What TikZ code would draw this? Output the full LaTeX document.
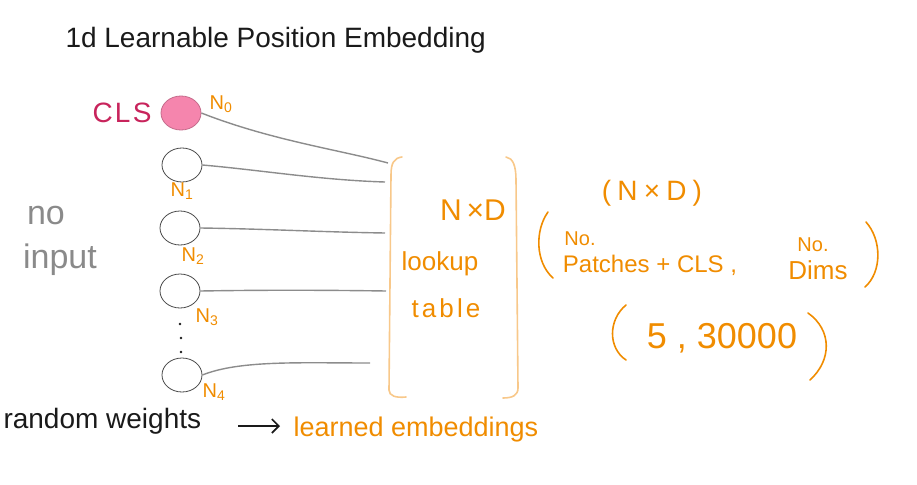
\documentclass[tikz,border=0pt]{standalone}
\usepackage{fontspec}
\setmainfont{Liberation Sans}
\usetikzlibrary{shapes.geometric,arrows.meta}
\definecolor{ink}{HTML}{1A1A1A}
\definecolor{orng}{HTML}{F08C00}
\definecolor{lorng}{HTML}{F8C88A}
\definecolor{clsred}{HTML}{C8245C}
\definecolor{clsfill}{HTML}{F585AD}
\definecolor{wire}{HTML}{8C8C8C}
\definecolor{greytxt}{HTML}{8A8A8A}
\tikzset{
  tok/.style={ellipse, draw=ink!80, line width=0.8pt, minimum width=40pt, minimum height=34pt, inner sep=0pt, fill=white},
  lbl/.style={text=orng, font=\fontsize{20}{22}\selectfont},
  wireline/.style={draw=wire, line width=1.4pt},
  brk/.style={draw=lorng, line width=1.6pt, line cap=round},
  paren/.style={draw=orng, line width=1.6pt, line cap=round},
  otxt/.style={text=orng, font=\fontsize{26}{30}\selectfont},
}
\newcommand{\spc}[1]{\addfontfeature{LetterSpace=#1}}
\begin{document}
\begin{tikzpicture}[x=1pt,y=-1pt]
\useasboundingbox (0,0) rectangle (917,484);
% title
\node[anchor=west, text=ink, font=\fontsize{28}{32}\selectfont] (title) at (62,40) {1d Learnable Position Embedding};
% tokens
\node[tok, fill=clsfill, draw=clsfill!80!black] (n0) at (181,113) {};
\node[tok] (n1) at (182,165) {};
\node[tok] (n2) at (180,228) {};
\node[tok] (n3) at (180,291) {};
\node[tok] (n4) at (182,375) {};
\node[text=clsred, font=\fontsize{28}{32}\selectfont\spc{8}, anchor=east] (cls) at (155,113) {CLS};
% labels
\node[lbl] (l0) at (221,104) {N\textsubscript{0}};
\node[lbl] (l1) at (182,191) {N\textsubscript{1}};
\node[lbl] (l2) at (193,256) {N\textsubscript{2}};
\node[lbl] (l3) at (207,317) {N\textsubscript{3}};
\node[lbl] (l4) at (214,392) {N\textsubscript{4}};
% dots
\node[circle, fill=ink, inner sep=0.9pt] (d1) at (180,324) {};
\node[circle, fill=ink, inner sep=0.9pt] (d2) at (181,338) {};
\node[circle, fill=ink, inner sep=0.9pt] (d3) at (181,352) {};
% no input
\node[text=greytxt, font=\fontsize{34}{38}\selectfont] (noin1) at (46,216) {no};
\node[text=greytxt, font=\fontsize{34}{38}\selectfont] (noin2) at (60,260) {input};
% connector endpoints at bracket
\coordinate (e0) at (388,163);
\coordinate (e1) at (385,182);
\coordinate (e2) at (385,233);
\coordinate (e3) at (386,291);
\coordinate (e4) at (370,363);
\draw[wireline] (n0.east) .. controls (270,140) and (340,150) .. (e0);
\draw[wireline] (n1.east) .. controls (260,170) and (320,180) .. (e1);
\draw[wireline] (n2.east) .. controls (270,229) and (320,232) .. (e2);
\draw[wireline] (n3.east) .. controls (260,290) and (320,290) .. (e3);
\draw[wireline] (n4.east) .. controls (240,360) and (300,363) .. (e4);
% lookup table bracket
\draw[brk] (402,157) .. controls (394,158) and (391,163) .. (391,175) -- (389,390) .. controls (389,396) and (396,398) .. (406,397);
\draw[brk] (506,157) .. controls (513,158) and (516,166) .. (516,180) -- (518,388) .. controls (518,395) and (513,398) .. (503,398);
\node[otxt, font=\fontsize{30}{34}\selectfont] (nxd) at (473,210) {N\,×D};
\node[otxt] (lookup) at (440,264) {lookup};
\node[otxt, font=\fontsize{26}{30}\selectfont\spc{12}] (table) at (446,308) {table};
% right annotations
\node[otxt, font=\fontsize{28}{32}\selectfont\spc{22}] (nxd2) at (652,193) {(N×D)};
\draw[paren] (548,212) .. controls (535,230) and (535,262) .. (553,278);
\draw[paren] (866,222) .. controls (882,240) and (882,272) .. (865,287);
\node[lbl] (no1) at (580,239) {No.};
\node[otxt, font=\fontsize{24}{28}\selectfont] (patches) at (650,265) {Patches + CLS ,};
\node[lbl] (no2) at (813,245) {No.};
\node[otxt] (dims) at (818,270) {Dims};
\draw[paren] (626,305) .. controls (608,320) and (608,348) .. (626,360);
\draw[paren] (808,313) .. controls (832,330) and (832,360) .. (810,380);
\node[text=orng, font=\fontsize{36}{40}\selectfont] (val) at (722,338) {5 , 30000};
% bottom line
\node[text=ink, font=\fontsize{28}{32}\selectfont, anchor=west] (rw) at (0,421) {random weights};
\node[text=orng, font=\fontsize{27}{31}\selectfont, anchor=west] (le) at (290,430) {learned embeddings};
\coordinate (as) at (238,426);
\coordinate (ae) at (280,426);
\draw[-{Straight Barb[length=7pt,width=14pt]}, draw=ink, line width=1.6pt] (as) -- (ae);
\end{tikzpicture}
\end{document}
